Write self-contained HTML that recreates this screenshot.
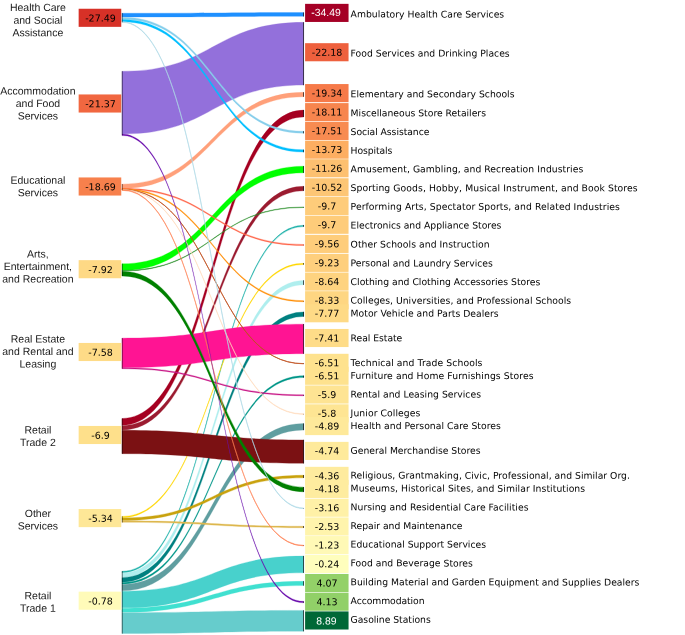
<!DOCTYPE html>
<html lang="en"><head><meta charset="utf-8"><title>Sankey</title>
<style>html,body{margin:0;padding:0;background:#fff;overflow:hidden}svg{display:block;will-change:transform}text{text-rendering:geometricPrecision}.ll{font-family:"Liberation Sans",Arial,sans-serif;font-size:10.5px;fill:#1a1a1a;text-anchor:middle}.vv{font-family:"DejaVu Sans",Verdana,sans-serif;font-size:9.5px;fill:#000;text-anchor:middle}.vw{font-family:"Liberation Sans",Arial,sans-serif;font-size:10.4px;fill:#fff;text-anchor:middle}.rl{font-family:"DejaVu Sans",Verdana,sans-serif;font-size:9.25px;fill:#000}</style></head><body>
<svg width="685" height="635" viewBox="0 0 685 635">
<rect width="685" height="635" fill="#fff"/>
<g>
<path d="M122,571.35 C212.85,571.35 212.85,225.2 303.7,225.2 L303.7,226.6 C212.85,226.6 212.85,572.75 122,572.75 Z" fill="#20B2AA" stroke="#20B2AA" stroke-width="0.3"/>
<path d="M122,573.05 C212.85,573.05 212.85,280.45 303.7,280.45 L303.7,284.75 C212.85,284.75 212.85,577.35 122,577.35 Z" fill="#AFEEEE" stroke="#AFEEEE" stroke-width="0.3"/>
<path d="M122,577.65 C212.85,577.65 212.85,311.95 303.7,311.95 L303.7,316.45 C212.85,316.45 212.85,582.15 122,582.15 Z" fill="#008080" stroke="#008080" stroke-width="0.3"/>
<path d="M122,582.45 C212.85,582.45 212.85,375.75 303.7,375.75 L303.7,377.45 C212.85,377.45 212.85,584.15 122,584.15 Z" fill="#009688" stroke="#009688" stroke-width="0.3"/>
<path d="M122,584.45 C212.85,584.45 212.85,423.6 303.7,423.6 L303.7,430 C212.85,430 212.85,590.85 122,590.85 Z" fill="#5F9EA0" stroke="#5F9EA0" stroke-width="0.3"/>
<path d="M122,591.15 C212.85,591.15 212.85,556.05 303.7,556.05 L303.7,572.75 C212.85,572.75 212.85,607.85 122,607.85 Z" fill="#48D1CC" stroke="#48D1CC" stroke-width="0.3"/>
<path d="M122,608.15 C212.85,608.15 212.85,581.3 303.7,581.3 L303.7,585.5 C212.85,585.5 212.85,612.35 122,612.35 Z" fill="#40E0D0" stroke="#40E0D0" stroke-width="0.3"/>
<path d="M122,612.65 C212.85,612.65 212.85,610.4 303.7,610.4 L303.7,631.2 C212.85,631.2 212.85,633.45 122,633.45 Z" fill="#66CCCC" stroke="#66CCCC" stroke-width="0.3"/>
<path d="M122,516.45 C212.85,516.45 212.85,263.3 303.7,263.3 L303.7,264.5 C212.85,264.5 212.85,517.65 122,517.65 Z" fill="#FFD700" stroke="#FFD700" stroke-width="0.3"/>
<path d="M122,517.95 C212.85,517.95 212.85,475.2 303.7,475.2 L303.7,477.8 C212.85,477.8 212.85,520.55 122,520.55 Z" fill="#C9A20E" stroke="#C9A20E" stroke-width="0.3"/>
<path d="M122,520.85 C212.85,520.85 212.85,526.25 303.7,526.25 L303.7,527.75 C212.85,527.75 212.85,522.35 122,522.35 Z" fill="#DDB74D" stroke="#DDB74D" stroke-width="0.3"/>
<path d="M122,418.55 C212.85,418.55 212.85,110.1 303.7,110.1 L303.7,116.9 C212.85,116.9 212.85,425.35 122,425.35 Z" fill="#A50021" stroke="#A50021" stroke-width="0.3"/>
<path d="M122,425.65 C212.85,425.65 212.85,186.3 303.7,186.3 L303.7,190.7 C212.85,190.7 212.85,430.05 122,430.05 Z" fill="#9B1B30" stroke="#9B1B30" stroke-width="0.3"/>
<path d="M122,430.35 C212.85,430.35 212.85,439.95 303.7,439.95 L303.7,463.25 C212.85,463.25 212.85,453.65 122,453.65 Z" fill="#7B1113" stroke="#7B1113" stroke-width="0.3"/>
<path d="M122,338.15 C212.85,338.15 212.85,324.15 303.7,324.15 L303.7,353.65 C212.85,353.65 212.85,367.65 122,367.65 Z" fill="#FF1493" stroke="#FF1493" stroke-width="0.3"/>
<path d="M122,367.72 C212.85,367.72 212.85,394.82 303.7,394.82 L303.7,395.78 C212.85,395.78 212.85,368.68 122,368.68 Z" fill="#C71585" stroke="#C71585" stroke-width="0.35"/>
<path d="M122,263.85 C212.85,263.85 212.85,166.2 303.7,166.2 L303.7,172.8 C212.85,172.8 212.85,270.45 122,270.45 Z" fill="#00FF00" stroke="#00FF00" stroke-width="0.3"/>
<path d="M122,270.55 C212.85,270.55 212.85,206.9 303.7,206.9 L303.7,207.5 C212.85,207.5 212.85,271.15 122,271.15 Z" fill="#228B22" stroke="#228B22" stroke-width="0.35"/>
<path d="M122,271.25 C212.85,271.25 212.85,487.15 303.7,487.15 L303.7,491.85 C212.85,491.85 212.85,275.95 122,275.95 Z" fill="#008000" stroke="#008000" stroke-width="0.3"/>
<path d="M122,184.15 C212.85,184.15 212.85,92.35 303.7,92.35 L303.7,96.65 C212.85,96.65 212.85,188.45 122,188.45 Z" fill="#FFA07A" stroke="#FFA07A" stroke-width="0.3"/>
<path d="M122,188.32 C212.85,188.32 212.85,244.5 303.7,244.5 L303.7,245.5 C212.85,245.5 212.85,189.32 122,189.32 Z" fill="#FF6347" stroke="#FF6347" stroke-width="0.4"/>
<path d="M122,188.7 C212.85,188.7 212.85,300.65 303.7,300.65 L303.7,301.75 C212.85,301.75 212.85,189.8 122,189.8 Z" fill="#FF8C00" stroke="#FF8C00" stroke-width="0.4"/>
<path d="M122,189.45 C212.85,189.45 212.85,363.6 303.7,363.6 L303.7,363.8 C212.85,363.8 212.85,189.65 122,189.65 Z" fill="#C0501F" stroke="#C0501F" stroke-width="0.7"/>
<path d="M122,189.47 C212.85,189.47 212.85,413.83 303.7,413.83 L303.7,414.38 C212.85,414.38 212.85,190.02 122,190.02 Z" fill="#FFDAB9" stroke="#FFDAB9" stroke-width="0.45"/>
<path d="M122,189.7 C212.85,189.7 212.85,545.33 303.7,545.33 L303.7,545.88 C212.85,545.88 212.85,190.25 122,190.25 Z" fill="#FF7F50" stroke="#FF7F50" stroke-width="0.5"/>
<path d="M122,71.35 C212.85,71.35 212.85,22.35 303.7,22.35 L303.7,85.05 C212.85,85.05 212.85,134.05 122,134.05 Z" fill="#9370DB" stroke="#9370DB" stroke-width="0.3"/>
<path d="M122,134.05 C212.85,134.05 212.85,601.35 303.7,601.35 L303.7,602.85 C212.85,602.85 212.85,135.55 122,135.55 Z" fill="#6A0DAD" stroke="#6A0DAD" stroke-width="0.2"/>
<path d="M122,13.25 C212.85,13.25 212.85,12.6 303.7,12.6 L303.7,16.3 C212.85,16.3 212.85,16.95 122,16.95 Z" fill="#1E90FF" stroke="#1E90FF" stroke-width="0.3"/>
<path d="M122,17.25 C212.85,17.25 212.85,131.3 303.7,131.3 L303.7,133.2 C212.85,133.2 212.85,19.15 122,19.15 Z" fill="#87CEEB" stroke="#87CEEB" stroke-width="0.3"/>
<path d="M122,19.45 C212.85,19.45 212.85,149.8 303.7,149.8 L303.7,152.1 C212.85,152.1 212.85,21.75 122,21.75 Z" fill="#00BFFF" stroke="#00BFFF" stroke-width="0.3"/>
<path d="M122,21.75 C212.85,21.75 212.85,508 303.7,508 L303.7,508.6 C212.85,508.6 212.85,22.35 122,22.35 Z" fill="#ADD8E6" stroke="#ADD8E6" stroke-width="0.55"/>
</g>
<g fill="#000">
<rect x="121.88" y="13.1" width="0.5" height="9.1"/>
<rect x="121.88" y="71.2" width="0.5" height="64.2"/>
<rect x="121.88" y="184" width="0.5" height="6.1"/>
<rect x="121.88" y="263.7" width="0.5" height="12.4"/>
<rect x="121.88" y="338" width="0.5" height="30.6"/>
<rect x="121.88" y="418.4" width="0.5" height="35.4"/>
<rect x="121.88" y="516.3" width="0.5" height="6.2"/>
<rect x="121.88" y="571.2" width="0.5" height="62.4"/>
<rect x="303" y="12.45" width="0.65" height="4"/>
<rect x="303" y="22.2" width="0.65" height="63"/>
<rect x="303" y="92.2" width="0.65" height="4.6"/>
<rect x="303" y="109.95" width="0.65" height="7.1"/>
<rect x="303" y="131.15" width="0.65" height="2.2"/>
<rect x="303" y="149.65" width="0.65" height="2.6"/>
<rect x="303" y="166.05" width="0.65" height="6.9"/>
<rect x="303" y="186.15" width="0.65" height="4.7"/>
<rect x="303" y="206.95" width="0.65" height="0.5"/>
<rect x="303" y="225.05" width="0.65" height="1.7"/>
<rect x="303" y="244.78" width="0.65" height="0.45"/>
<rect x="303" y="263.15" width="0.65" height="1.5"/>
<rect x="303" y="280.3" width="0.65" height="4.6"/>
<rect x="303" y="301" width="0.65" height="0.4"/>
<rect x="303" y="311.8" width="0.65" height="4.8"/>
<rect x="303" y="324" width="0.65" height="29.8"/>
<rect x="303" y="363.52" width="0.65" height="0.35"/>
<rect x="303" y="375.6" width="0.65" height="2"/>
<rect x="303" y="394.9" width="0.65" height="0.8"/>
<rect x="303" y="413.93" width="0.65" height="0.35"/>
<rect x="303" y="423.45" width="0.65" height="6.7"/>
<rect x="303" y="439.8" width="0.65" height="23.6"/>
<rect x="303" y="475.05" width="0.65" height="2.9"/>
<rect x="303" y="487" width="0.65" height="5"/>
<rect x="303" y="508.12" width="0.65" height="0.35"/>
<rect x="303" y="526.1" width="0.65" height="1.8"/>
<rect x="303" y="545.43" width="0.65" height="0.35"/>
<rect x="303" y="555.9" width="0.65" height="17"/>
<rect x="303" y="581.15" width="0.65" height="4.5"/>
<rect x="303" y="601.5" width="0.65" height="1.2"/>
<rect x="303" y="610.25" width="0.65" height="21.1"/>
</g>
<g id="lbl">
<rect x="78.65" y="8.75" width="42.6" height="18.1" fill="rgb(215,49,39)"/>
<text class="vv" x="100.5" y="21.5" transform="rotate(0.03 100.5 21.5)">-27.49</text>
<text class="ll" x="37.9" y="11.1" transform="rotate(0.03 37.9 11.1)">Health Care</text>
<text class="ll" x="37.9" y="23.7" transform="rotate(0.03 37.9 23.7)">and Social</text>
<text class="ll" x="37.9" y="36.2" transform="rotate(0.03 37.9 36.2)">Assistance</text>
<rect x="78.65" y="94.45" width="42.6" height="18.1" fill="rgb(241,103,64)"/>
<text class="vv" x="100.5" y="107.2" transform="rotate(0.03 100.5 107.2)">-21.37</text>
<text class="ll" x="37.9" y="94.5" transform="rotate(0.03 37.9 94.5)">Accommodation</text>
<text class="ll" x="37.9" y="107.1" transform="rotate(0.03 37.9 107.1)">and Food</text>
<text class="ll" x="37.9" y="119.6" transform="rotate(0.03 37.9 119.6)">Services</text>
<rect x="78.65" y="177.45" width="42.6" height="18.1" fill="rgb(247,128,76)"/>
<text class="vv" x="100.5" y="190.2" transform="rotate(0.03 100.5 190.2)">-18.69</text>
<text class="ll" x="37.9" y="183.7" transform="rotate(0.03 37.9 183.7)">Educational</text>
<text class="ll" x="37.9" y="196.2" transform="rotate(0.03 37.9 196.2)">Services</text>
<rect x="78.65" y="260.15" width="42.6" height="18.1" fill="rgb(254,217,133)"/>
<text class="vv" x="100.5" y="272.9" transform="rotate(0.03 100.5 272.9)">-7.92</text>
<text class="ll" x="37.9" y="257.5" transform="rotate(0.03 37.9 257.5)">Arts,</text>
<text class="ll" x="37.9" y="270" transform="rotate(0.03 37.9 270)">Entertainment,</text>
<text class="ll" x="37.9" y="282.5" transform="rotate(0.03 37.9 282.5)">and Recreation</text>
<rect x="78.65" y="342.95" width="42.6" height="18.1" fill="rgb(254,219,135)"/>
<text class="vv" x="100.5" y="355.7" transform="rotate(0.03 100.5 355.7)">-7.58</text>
<text class="ll" x="37.9" y="342.5" transform="rotate(0.03 37.9 342.5)">Real Estate</text>
<text class="ll" x="37.9" y="355" transform="rotate(0.03 37.9 355)">and Rental and</text>
<text class="ll" x="37.9" y="367.6" transform="rotate(0.03 37.9 367.6)">Leasing</text>
<rect x="78.65" y="425.95" width="42.6" height="18.1" fill="rgb(254,224,139)"/>
<text class="vv" x="100.5" y="438.7" transform="rotate(0.03 100.5 438.7)">-6.9</text>
<text class="ll" x="37.9" y="433.4" transform="rotate(0.03 37.9 433.4)">Retail</text>
<text class="ll" x="37.9" y="445.9" transform="rotate(0.03 37.9 445.9)">Trade 2</text>
<rect x="78.65" y="509.05" width="42.6" height="18.1" fill="rgb(254,231,151)"/>
<text class="vv" x="100.5" y="521.8" transform="rotate(0.03 100.5 521.8)">-5.34</text>
<text class="ll" x="37.9" y="516.9" transform="rotate(0.03 37.9 516.9)">Other</text>
<text class="ll" x="37.9" y="529.5" transform="rotate(0.03 37.9 529.5)">Services</text>
<rect x="78.65" y="591.65" width="42.6" height="18.1" fill="rgb(255,251,185)"/>
<text class="vv" x="100.5" y="604.4" transform="rotate(0.03 100.5 604.4)">-0.78</text>
<text class="ll" x="37.9" y="599.3" transform="rotate(0.03 37.9 599.3)">Retail</text>
<text class="ll" x="37.9" y="611.8" transform="rotate(0.03 37.9 611.8)">Trade 1</text>
<rect x="305.1" y="3.85" width="43.45" height="18.1" fill="rgb(165,0,38)"/>
<rect x="305.1" y="43.18" width="43.45" height="18.1" fill="rgb(238,96,61)"/>
<rect x="305.1" y="84.06" width="43.45" height="18.1" fill="rgb(246,122,73)"/>
<rect x="305.1" y="103.1" width="43.45" height="18.1" fill="rgb(247,133,78)"/>
<rect x="305.1" y="121.88" width="43.45" height="18.1" fill="rgb(248,139,81)"/>
<rect x="305.1" y="140.62" width="43.45" height="18.1" fill="rgb(253,174,97)"/>
<rect x="305.1" y="159.21" width="43.45" height="18.1" fill="rgb(253,192,112)"/>
<rect x="305.1" y="178.25" width="43.45" height="18.1" fill="rgb(253,198,117)"/>
<rect x="305.1" y="196.98" width="43.45" height="18.1" fill="rgb(254,204,122)"/>
<rect x="305.1" y="215.72" width="43.45" height="18.1" fill="rgb(254,204,122)"/>
<rect x="305.1" y="234.86" width="43.45" height="18.1" fill="rgb(254,205,123)"/>
<rect x="305.1" y="253.8" width="43.45" height="18.1" fill="rgb(254,207,125)"/>
<rect x="305.1" y="272.54" width="43.45" height="18.1" fill="rgb(254,211,128)"/>
<rect x="305.1" y="291.17" width="43.45" height="18.1" fill="rgb(254,214,130)"/>
<rect x="305.1" y="304.2" width="43.45" height="18.1" fill="rgb(254,218,134)"/>
<rect x="305.1" y="328.95" width="43.45" height="18.1" fill="rgb(254,220,136)"/>
<rect x="305.1" y="353.8" width="43.45" height="18.1" fill="rgb(254,226,142)"/>
<rect x="305.1" y="366.72" width="43.45" height="18.1" fill="rgb(254,226,142)"/>
<rect x="305.1" y="385.46" width="43.45" height="18.1" fill="rgb(254,228,147)"/>
<rect x="305.1" y="404.3" width="43.45" height="18.1" fill="rgb(254,229,147)"/>
<rect x="305.1" y="417.02" width="43.45" height="18.1" fill="rgb(254,233,154)"/>
<rect x="305.1" y="441.87" width="43.45" height="18.1" fill="rgb(254,234,155)"/>
<rect x="305.1" y="466.82" width="43.45" height="18.1" fill="rgb(254,235,158)"/>
<rect x="305.1" y="479.85" width="43.45" height="18.1" fill="rgb(254,236,159)"/>
<rect x="305.1" y="498.69" width="43.45" height="18.1" fill="rgb(255,241,167)"/>
<rect x="305.1" y="517.42" width="43.45" height="18.1" fill="rgb(255,244,172)"/>
<rect x="305.1" y="536.06" width="43.45" height="18.1" fill="rgb(255,249,182)"/>
<rect x="305.1" y="554.9" width="43.45" height="18.1" fill="rgb(255,254,189)"/>
<rect x="305.1" y="573.94" width="43.45" height="18.1" fill="rgb(147,209,104)"/>
<rect x="305.1" y="592.67" width="43.45" height="18.1" fill="rgb(145,208,104)"/>
<rect x="305.1" y="611.41" width="43.45" height="18.1" fill="rgb(0,104,55)"/>
<text class="vw" x="326" y="16.05" transform="rotate(0.03 326 16.05)">-34.49</text>
<text class="rl" x="350.6" y="17.37" transform="rotate(0.03 350.6 17.37)" textLength="153.6">Ambulatory Health Care Services</text>
<text class="vv" x="327.1" y="55.66" transform="rotate(0.03 327.1 55.66)">-22.18</text>
<text class="rl" x="350.6" y="56.55" transform="rotate(0.03 350.6 56.55)" textLength="159.1">Food Services and Drinking Places</text>
<text class="vv" x="327.1" y="96.54" transform="rotate(0.03 327.1 96.54)">-19.34</text>
<text class="rl" x="350.6" y="97.28" transform="rotate(0.03 350.6 97.28)" textLength="163.9">Elementary and Secondary Schools</text>
<text class="vv" x="327.1" y="115.58" transform="rotate(0.03 327.1 115.58)">-18.11</text>
<text class="rl" x="350.6" y="116.25" transform="rotate(0.03 350.6 116.25)" textLength="135.4">Miscellaneous Store Retailers</text>
<text class="vv" x="327.1" y="134.36" transform="rotate(0.03 327.1 134.36)">-17.51</text>
<text class="rl" x="350.6" y="134.96" transform="rotate(0.03 350.6 134.96)" textLength="78.8">Social Assistance</text>
<text class="vv" x="327.1" y="153.1" transform="rotate(0.03 327.1 153.1)">-13.73</text>
<text class="rl" x="350.6" y="153.63" transform="rotate(0.03 350.6 153.63)" textLength="41.7">Hospitals</text>
<text class="vv" x="327.1" y="171.69" transform="rotate(0.03 327.1 171.69)">-11.26</text>
<text class="rl" x="350.6" y="172.14" transform="rotate(0.03 350.6 172.14)" textLength="232.7">Amusement, Gambling, and Recreation Industries</text>
<text class="vv" x="327.1" y="190.73" transform="rotate(0.03 327.1 190.73)">-10.52</text>
<text class="rl" x="350.6" y="191.11" transform="rotate(0.03 350.6 191.11)" textLength="287">Sporting Goods, Hobby, Musical Instrument, and Book Stores</text>
<text class="vv" x="327.1" y="209.46" transform="rotate(0.03 327.1 209.46)">-9.7</text>
<text class="rl" x="350.6" y="209.78" transform="rotate(0.03 350.6 209.78)" textLength="269.3">Performing Arts, Spectator Sports, and Related Industries</text>
<text class="vv" x="327.1" y="228.2" transform="rotate(0.03 327.1 228.2)">-9.7</text>
<text class="rl" x="350.6" y="228.44" transform="rotate(0.03 350.6 228.44)" textLength="150.8">Electronics and Appliance Stores</text>
<text class="vv" x="327.1" y="247.34" transform="rotate(0.03 327.1 247.34)">-9.56</text>
<text class="rl" x="350.6" y="247.51" transform="rotate(0.03 350.6 247.51)" textLength="139">Other Schools and Instruction</text>
<text class="vv" x="327.1" y="266.28" transform="rotate(0.03 327.1 266.28)">-9.23</text>
<text class="rl" x="350.6" y="266.37" transform="rotate(0.03 350.6 266.37)" textLength="142.2">Personal and Laundry Services</text>
<text class="vv" x="327.1" y="285.02" transform="rotate(0.03 327.1 285.02)">-8.64</text>
<text class="rl" x="350.6" y="285.04" transform="rotate(0.03 350.6 285.04)" textLength="189.7">Clothing and Clothing Accessories Stores</text>
<text class="vv" x="327.1" y="303.65" transform="rotate(0.03 327.1 303.65)">-8.33</text>
<text class="rl" x="350.6" y="303.61" transform="rotate(0.03 350.6 303.61)" textLength="220.5">Colleges, Universities, and Professional Schools</text>
<text class="vv" x="327.1" y="316.68" transform="rotate(0.03 327.1 316.68)">-7.77</text>
<text class="rl" x="350.6" y="316.58" transform="rotate(0.03 350.6 316.58)" textLength="148.1">Motor Vehicle and Parts Dealers</text>
<text class="vv" x="327.1" y="341.43" transform="rotate(0.03 327.1 341.43)">-7.41</text>
<text class="rl" x="350.6" y="341.24" transform="rotate(0.03 350.6 341.24)" textLength="51.7">Real Estate</text>
<text class="vv" x="327.1" y="366.28" transform="rotate(0.03 327.1 366.28)">-6.51</text>
<text class="rl" x="350.6" y="366" transform="rotate(0.03 350.6 366)" textLength="131.8">Technical and Trade Schools</text>
<text class="vv" x="327.1" y="379.2" transform="rotate(0.03 327.1 379.2)">-6.51</text>
<text class="rl" x="350.6" y="378.87" transform="rotate(0.03 350.6 378.87)" textLength="182.9">Furniture and Home Furnishings Stores</text>
<text class="vv" x="327.1" y="397.94" transform="rotate(0.03 327.1 397.94)">-5.9</text>
<text class="rl" x="350.6" y="397.54" transform="rotate(0.03 350.6 397.54)" textLength="130.4">Rental and Leasing Services</text>
<text class="vv" x="327.1" y="416.78" transform="rotate(0.03 327.1 416.78)">-5.8</text>
<text class="rl" x="350.6" y="416.3" transform="rotate(0.03 350.6 416.3)" textLength="69.8">Junior Colleges</text>
<text class="vv" x="327.1" y="429.5" transform="rotate(0.03 327.1 429.5)">-4.89</text>
<text class="rl" x="350.6" y="428.98" transform="rotate(0.03 350.6 428.98)" textLength="150.3">Health and Personal Care Stores</text>
<text class="vv" x="327.1" y="454.35" transform="rotate(0.03 327.1 454.35)">-4.74</text>
<text class="rl" x="350.6" y="453.74" transform="rotate(0.03 350.6 453.74)" textLength="130">General Merchandise Stores</text>
<text class="vv" x="327.1" y="479.3" transform="rotate(0.03 327.1 479.3)">-4.36</text>
<text class="rl" x="350.6" y="478.59" transform="rotate(0.03 350.6 478.59)" textLength="279.3">Religious, Grantmaking, Civic, Professional, and Similar Org.</text>
<text class="vv" x="327.1" y="492.33" transform="rotate(0.03 327.1 492.33)">-4.18</text>
<text class="rl" x="350.6" y="491.57" transform="rotate(0.03 350.6 491.57)" textLength="234.5">Museums, Historical Sites, and Similar Institutions</text>
<text class="vv" x="327.1" y="511.17" transform="rotate(0.03 327.1 511.17)">-3.16</text>
<text class="rl" x="350.6" y="510.34" transform="rotate(0.03 350.6 510.34)" textLength="177.9">Nursing and Residential Care Facilities</text>
<text class="vv" x="327.1" y="529.9" transform="rotate(0.03 327.1 529.9)">-2.53</text>
<text class="rl" x="350.6" y="529" transform="rotate(0.03 350.6 529)" textLength="111.9">Repair and Maintenance</text>
<text class="vv" x="327.1" y="548.54" transform="rotate(0.03 327.1 548.54)">-1.23</text>
<text class="rl" x="350.6" y="547.57" transform="rotate(0.03 350.6 547.57)" textLength="135.4">Educational Support Services</text>
<text class="vv" x="327.1" y="567.38" transform="rotate(0.03 327.1 567.38)">-0.24</text>
<text class="rl" x="350.6" y="566.33" transform="rotate(0.03 350.6 566.33)" textLength="122.3">Food and Beverage Stores</text>
<text class="vv" x="327.1" y="586.42" transform="rotate(0.03 327.1 586.42)">4.07</text>
<text class="rl" x="350.6" y="585.3" transform="rotate(0.03 350.6 585.3)" textLength="288.8">Building Material and Garden Equipment and Supplies Dealers</text>
<text class="vv" x="327.1" y="605.15" transform="rotate(0.03 327.1 605.15)">4.13</text>
<text class="rl" x="350.6" y="603.97" transform="rotate(0.03 350.6 603.97)" textLength="73.9">Accommodation</text>
<text class="vw" x="326.4" y="624.56" transform="rotate(0.03 326.4 624.56)">8.89</text>
<text class="rl" x="350.6" y="622.63" transform="rotate(0.03 350.6 622.63)" textLength="80.2">Gasoline Stations</text>
</g>
</svg></body></html>
